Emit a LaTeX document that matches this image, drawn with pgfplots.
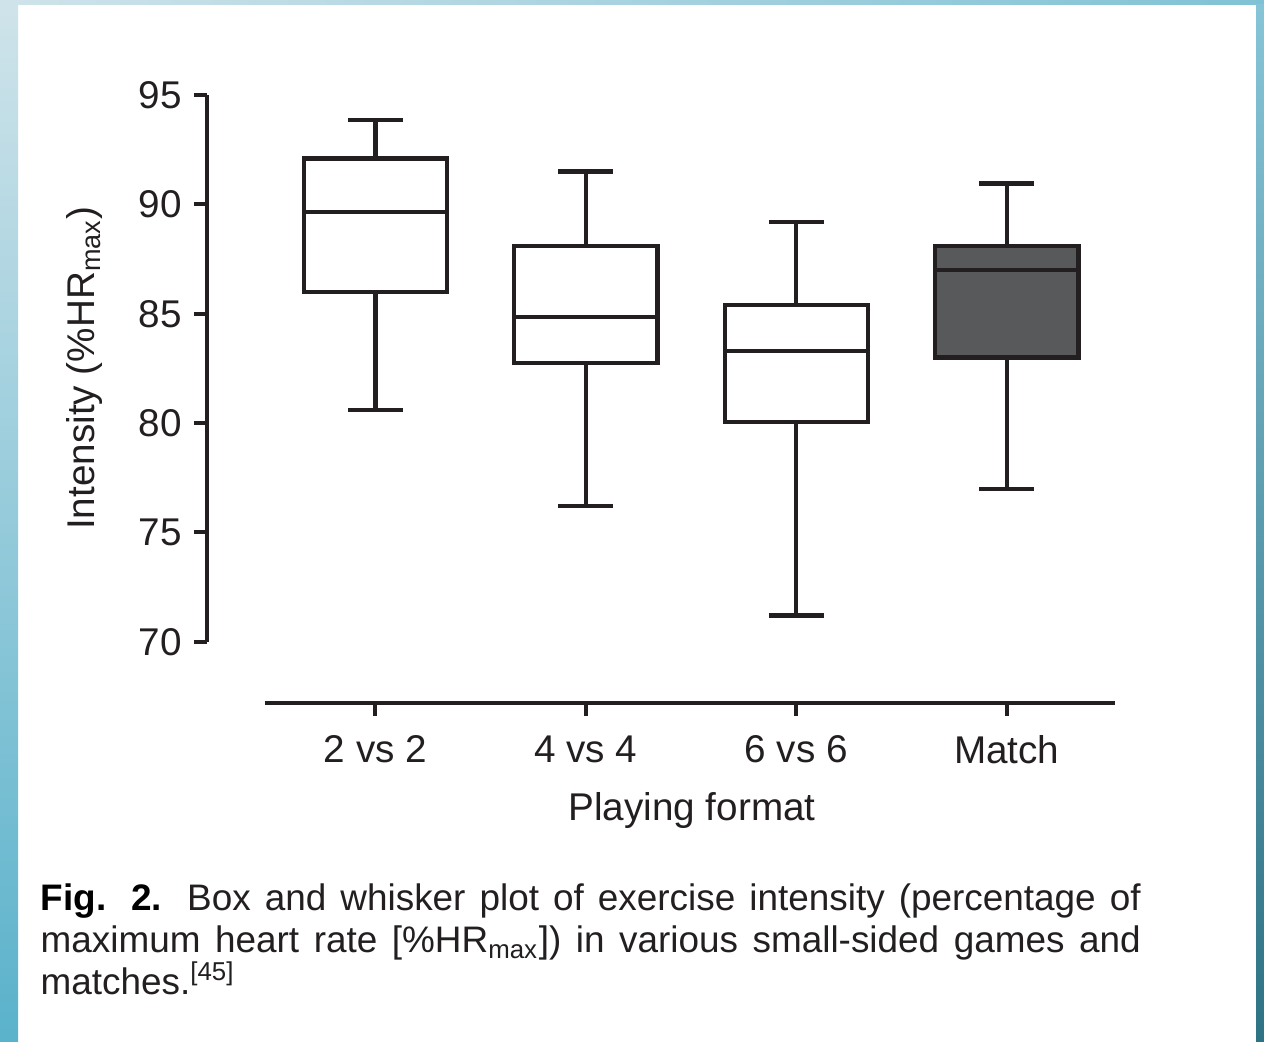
\documentclass[border=0pt]{standalone}
\usepackage{fontspec}
\setmainfont{Liberation Sans}
\usepackage{pgfplots}
\pgfplotsset{compat=1.18}
\usepgfplotslibrary{statistics}
\definecolor{ink}{HTML}{231F20}
\definecolor{boxgray}{HTML}{58595B}
\definecolor{lefttop}{HTML}{CFE3EA}
\definecolor{leftbot}{HTML}{5AB2CB}
\definecolor{topright}{HTML}{80C2D5}
\definecolor{righttop}{HTML}{86C5D7}
\definecolor{rightmid}{HTML}{4DAECB}
\definecolor{rightbot}{HTML}{2E7286}
\begin{document}
\begin{tikzpicture}
\begin{scope}[x=0.1mm,y=0.1mm]
\fill[white] (0,0) rectangle (1264,1042);
\shade[top color=lefttop, bottom color=leftbot] (0,0) rectangle (18,1037);
\shade[left color=lefttop, right color=topright] (0,1037) rectangle (1264,1042);
\shade[top color=righttop, middle color=rightmid, bottom color=rightbot] (1256,0) rectangle (1264,1037);
\end{scope}

\begin{axis}[
  at={(20.7mm,33.9mm)}, anchor=south west, scale only axis,
  width=90.8mm, height=60.8mm,
  xmin=-0.8, xmax=3.514, ymin=67.2, ymax=95,
  axis x line=bottom, axis y line=left,
  x axis line style={-, line width=0.45mm, draw=ink, shorten <=5.8mm},
  y axis line style={-, line width=0.45mm, draw=ink, shorten <=6.13mm},
  xtick={0,1,2,3}, xticklabels={2 vs 2,4 vs 4,6 vs 6,Match},
  ytick={70,75,...,95},
  minor tick num=0,
  tick align=outside, major tick length=1.3mm,
  tick style={line width=0.4mm, draw=ink},
  ticklabel style={font=\fontsize{11}{13}\selectfont, text=ink},
  xticklabel style={yshift=-0.7mm},
  /pgf/number format/assume math mode=true,
  boxplot/draw direction=y,
  boxplot/box extend=0.68, boxplot/whisker extend=0.26,
  clip=false,
]
\addplot[boxplot prepared={draw position=0, lower whisker=80.6, lower quartile=86.0, median=89.65, upper quartile=92.1, upper whisker=93.85}, draw=ink, fill=white, line width=0.43mm, solid] coordinates {};
\addplot[boxplot prepared={draw position=1, lower whisker=76.2, lower quartile=82.75, median=84.85, upper quartile=88.1, upper whisker=91.5}, draw=ink, fill=white, line width=0.43mm, solid] coordinates {};
\addplot[boxplot prepared={draw position=2, lower whisker=71.2, lower quartile=80.05, median=83.3, upper quartile=85.4, upper whisker=89.2}, draw=ink, fill=white, line width=0.43mm, solid] coordinates {};
\addplot[boxplot prepared={draw position=3, lower whisker=77.0, lower quartile=83.0, median=87.0, upper quartile=88.1, upper whisker=90.95}, draw=ink, fill=boxgray, line width=0.43mm, solid] coordinates {};
\end{axis}

\node[font=\fontsize{11}{13}\selectfont, text=ink] at (69.2mm,23.1mm) {Playing format};
\node[rotate=90, font=\fontsize{11}{13}\selectfont, text=ink] at (8.5mm,67.4mm) {Intensity (\%HR\textsubscript{max})};
\node[anchor=base west, inner sep=0, text=ink] at (4.0mm,13.1mm) {\parbox[t]{110mm}{\fontsize{10.5}{11.9}\selectfont \textcolor{black}{\textbf{Fig. 2.}} Box and whisker plot of exercise intensity (percentage of\linebreak maximum heart rate [\%HR\textsubscript{max}]) in various small-sided games and\linebreak matches.\textsuperscript{[45]}}};
\end{tikzpicture}
\end{document}
